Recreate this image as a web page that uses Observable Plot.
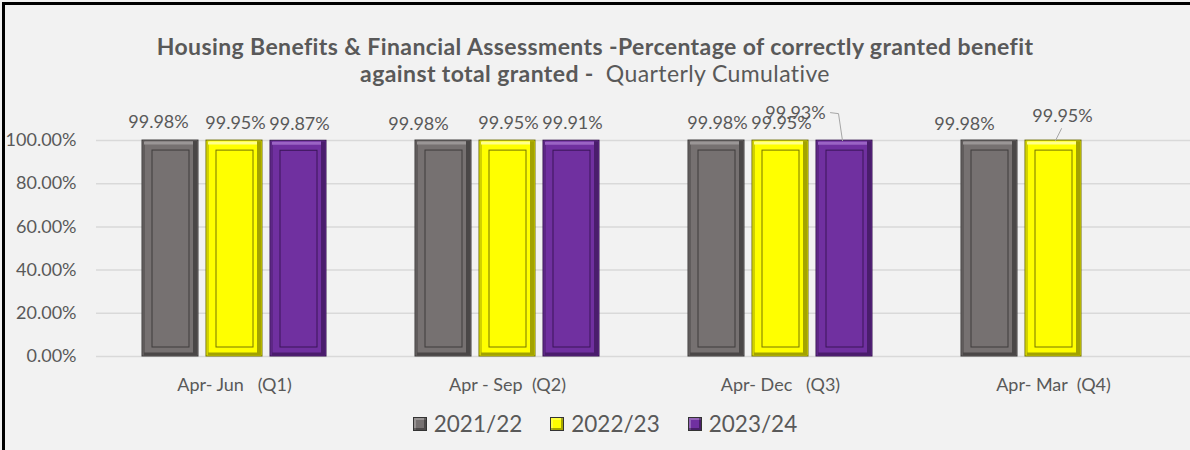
<!DOCTYPE html>
<html>
<head>
<meta charset="utf-8">
<script src="https://cdn.jsdelivr.net/npm/d3@7"></script>
<script src="https://cdn.jsdelivr.net/npm/@observablehq/plot@0.6"></script>
<style>
  html, body { margin: 0; padding: 0; background: #f2f2f2; }
  #wrap { position: relative; width: 1190px; height: 450px; background: #f2f2f2; overflow: hidden; font-family: Lato, "Open Sans", sans-serif; color: #595959; }
  #title { position: absolute; left: 0; top: 33px; width: 1190px; text-align: center; font-size: 23px; letter-spacing: 0.4px; line-height: 27px; font-weight: bold; color: #595959; }
  #title .sub { font-weight: normal; }
  #chart { position: absolute; left: 0; top: 100px; }
  #chart svg text { white-space: pre; }
  #legend { position: absolute; left: 10px; top: 410px; width: 1190px; display: flex; justify-content: center; gap: 28px; font-size: 22.5px; color: #595959; }
  #legend .item { display: flex; align-items: center; gap: 7px; }
  #legend .sw { width: 12px; height: 12px; border: 1px solid #333; box-shadow: inset -2px -2px 0 rgba(0,0,0,0.35), inset 2px 2px 0 rgba(255,255,255,0.25); }
  #frame { position: absolute; left: 2px; top: 2px; width: 1186px; height: 460px; border-left: 3px solid #000; border-top: 3px solid #000; border-right: 1px solid #8a8a8a; pointer-events: none; }
</style>
</head>
<body>
<div id="wrap">
  <div id="title">Housing Benefits &amp; Financial Assessments -Percentage of correctly granted benefit<br>against total granted - &nbsp;<span class="sub">Quarterly Cumulative</span></div>
  <div id="chart"></div>
  <div id="legend"></div>
  <div id="frame"></div>
</div>
<script>
// ---- data ----
const quarters = ["Apr- Jun   (Q1)", "Apr - Sep  (Q2)", "Apr- Dec   (Q3)", "Apr- Mar  (Q4)"];
const years = ["2021/22", "2022/23", "2023/24"];
const values2021_22 = [99.98, 99.98, 99.98, 99.98];
const values2022_23 = [99.95, 99.95, 99.95, 99.95];
const values2023_24 = [99.87, 99.91, 99.93, null];
const yTicks = [0, 20, 40, 60, 80, 100];

// ---- styles ----
const palette = {
  "2021/22": {main: "#767171", edge: "#3a3838", dark: "#4a4747", light: "#9a9696", inner: "#3f3c3c"},
  "2022/23": {main: "#ffff00", edge: "#6e6e00", dark: "#a3a300", light: "#ffff8c", inner: "#767600"},
  "2023/24": {main: "#7030a0", edge: "#34124f", dark: "#4a1d6c", light: "#9a63c4", inner: "#3a1558"}
};
const seriesValues = [values2021_22, values2022_23, values2023_24];
const rows = years.flatMap((year, i) => quarters.map((quarter, j) => ({year, quarter, value: seriesValues[i][j]})))
  .filter(d => d.value != null);

const W = 1190, ML = 96, MR = 0;
const BAR_W = 56, BAR_GAP = 8, GROUP_W = 3 * BAR_W + 2 * BAR_GAP;
const step = (W - ML - MR) / quarters.length;
const padIn = 1 - GROUP_W / step;

const fmt = v => v.toFixed(2) + "%";
const marks = [Plot.gridY(yTicks, {stroke: "#d9d9d9", strokeOpacity: 1, strokeWidth: 1.5})];

years.forEach((year, i) => {
  const c = palette[year];
  const data = rows.filter(d => d.year === year);
  const left = i * (BAR_W + BAR_GAP);
  const right = GROUP_W - left - BAR_W;
  marks.push(
    Plot.barY(data, {x: "quarter", y: "value", fill: c.main, stroke: c.edge, strokeWidth: 1, insetLeft: left, insetRight: right}),
    Plot.barY(data, {x: "quarter", y: "value", fill: c.dark, insetLeft: left + BAR_W - 5, insetRight: right + 1, insetTop: 1, insetBottom: 1}),
    Plot.barY(data, {x: "quarter", y: "value", fill: c.dark, fillOpacity: 0.5, insetLeft: left + 1, insetRight: right + BAR_W - 3, insetTop: 1, insetBottom: 1}),
    Plot.tickY(data, {x: "quarter", y: "value", dy: 2.5, stroke: c.light, strokeWidth: 3, insetLeft: left + 2, insetRight: right + 5}),
    Plot.tickY(data, {x: "quarter", y: () => 0, dy: -2.5, stroke: c.dark, strokeWidth: 3, insetLeft: left + 2, insetRight: right + 1}),
    Plot.barY(data, {x: "quarter", y: "value", fill: "none", stroke: c.inner, strokeWidth: 1, insetLeft: left + 10, insetRight: right + 9, insetTop: 10, insetBottom: 9})
  );
});

// data labels (default: centred above each bar)
const labelStyle = {fill: "#595959", fontSize: 18};
const centerOffset = i => (i - 1) * (BAR_W + BAR_GAP);
const isMoved = d =>
  (d.year === "2021/22" && (d.quarter === quarters[0] || d.quarter === quarters[1] || d.quarter === quarters[3])) ||
  (d.year === "2023/24" && d.quarter === quarters[2]) ||
  (d.year === "2022/23" && d.quarter === quarters[3]);
years.forEach((year, i) => {
  marks.push(Plot.text(rows.filter(d => d.year === year && !isMoved(d)),
    {x: "quarter", y: "value", text: d => fmt(d.value), dx: centerOffset(i) + 1, dy: -17, ...labelStyle}));
});
// labels that Excel nudged away from collisions
marks.push(
  Plot.text(rows.filter(d => d.year === "2021/22" && d.quarter === quarters[0]),
    {x: "quarter", y: "value", text: d => fmt(d.value), dx: -76, dy: -18, ...labelStyle}),
  Plot.text(rows.filter(d => d.year === "2021/22" && (d.quarter === quarters[1] || d.quarter === quarters[3])),
    {x: "quarter", y: "value", text: d => fmt(d.value), dx: -89, dy: -16, ...labelStyle}),
  Plot.text(rows.filter(d => d.year === "2023/24" && d.quarter === quarters[2]),
    {x: "quarter", y: "value", text: d => fmt(d.value), dx: 15, dy: -27, ...labelStyle}),
  Plot.text(rows.filter(d => d.year === "2022/23" && d.quarter === quarters[3]),
    {x: "quarter", y: "value", text: d => fmt(d.value), dx: 9, dy: -24, ...labelStyle}),
  // leader lines
  Plot.vector(rows.filter(d => d.year === "2023/24" && d.quarter === quarters[2]),
    {x: "quarter", y: "value", dx: 62, length: 28, anchor: "start", stroke: "#a6a6a6", strokeWidth: 1,
     shape: {draw(ctx) { ctx.moveTo(0, 0); ctx.lineTo(-4, -27); ctx.lineTo(-12, -28); }}}),
  Plot.vector(rows.filter(d => d.year === "2022/23" && d.quarter === quarters[3]),
    {x: "quarter", y: "value", dx: 2, length: 12, anchor: "start", stroke: "#a6a6a6", strokeWidth: 1,
     shape: {draw(ctx) { ctx.moveTo(0, 0); ctx.lineTo(6, -12); }}})
);

const chart = Plot.plot({
  width: W,
  height: 300,
  marginTop: 40,
  marginBottom: 44,
  marginLeft: ML,
  marginRight: MR,
  style: {fontFamily: "Lato, 'Open Sans', sans-serif", fontSize: "18px", color: "#595959", background: "transparent", overflow: "visible"},
  x: {type: "band", domain: quarters, paddingInner: padIn, paddingOuter: padIn / 2, tickSize: 0, tickPadding: 22, label: null},
  y: {domain: [0, 100], ticks: yTicks, tickFormat: fmt, tickSize: 0, tickPadding: 20, label: null},
  marks
});
document.getElementById("chart").appendChild(chart);

// legend
const legend = document.getElementById("legend");
years.forEach(year => {
  const item = document.createElement("div");
  item.className = "item";
  const sw = document.createElement("span");
  sw.className = "sw";
  sw.style.background = palette[year].main;
  const label = document.createElement("span");
  label.textContent = year;
  item.appendChild(sw);
  item.appendChild(label);
  legend.appendChild(item);
});
</script>
</body>
</html>
